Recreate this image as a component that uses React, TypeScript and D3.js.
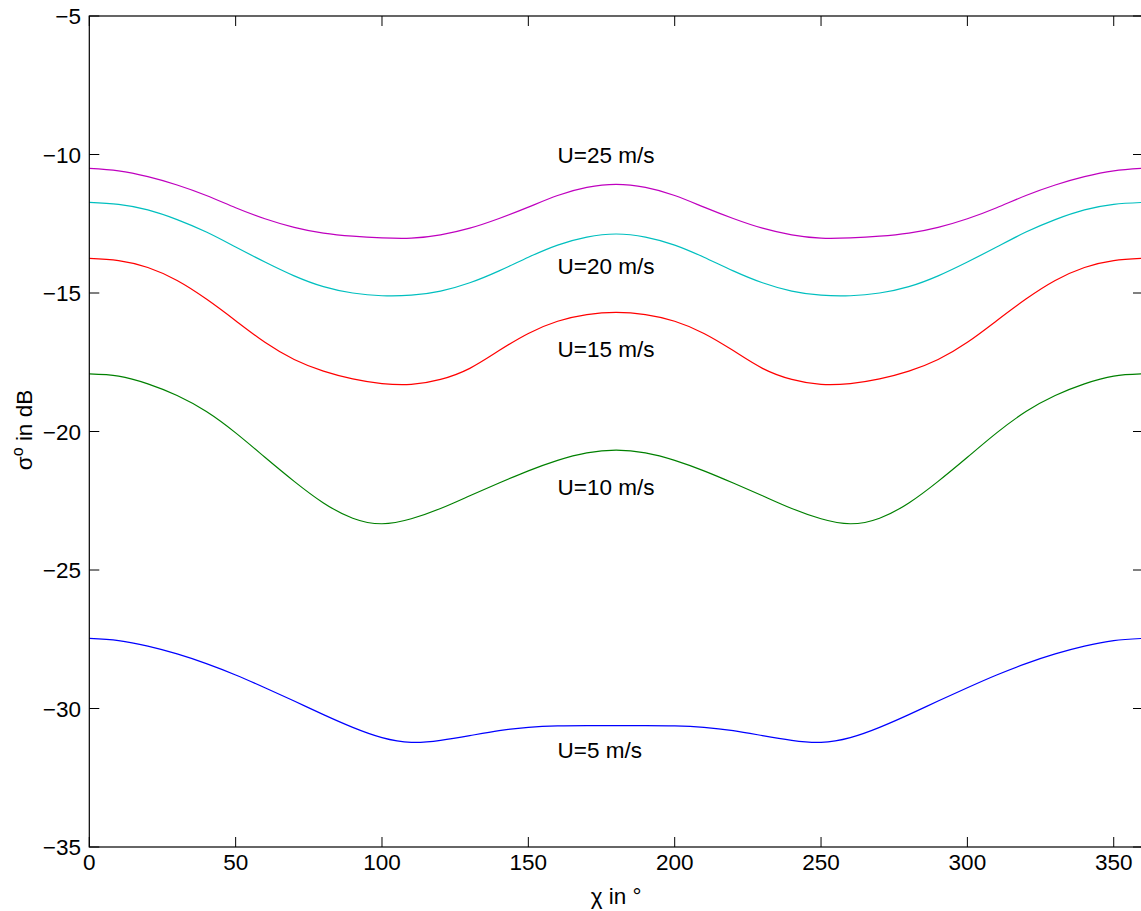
import React from "react";
import * as d3 from "d3";

const chi = d3.range(0, 361, 10);

// values, 0..180 deg, mirrored for 190..360
const halfU25 = [-10.5, -10.59, -10.8, -11.1, -11.48, -11.92, -12.32, -12.63, -12.84, -12.95, -13.01, -13.02, -12.9, -12.66, -12.31, -11.9, -11.48, -11.19, -11.08];
const halfU20 = [-11.73, -11.8, -12.0, -12.35, -12.8, -13.34, -13.88, -14.38, -14.77, -15.0, -15.1, -15.08, -14.93, -14.63, -14.2, -13.71, -13.27, -12.98, -12.87];
const halfU15 = [-13.75, -13.83, -14.08, -14.55, -15.22, -16.0, -16.78, -17.4, -17.82, -18.1, -18.27, -18.3, -18.12, -17.72, -17.08, -16.46, -16.02, -15.78, -15.7];
const halfU10 = [-17.92, -18.0, -18.28, -18.7, -19.28, -20.05, -20.93, -21.8, -22.58, -23.13, -23.33, -23.15, -22.78, -22.32, -21.86, -21.42, -21.04, -20.77, -20.67];
const halfU5 = [-27.47, -27.55, -27.75, -28.03, -28.38, -28.79, -29.25, -29.73, -30.22, -30.68, -31.05, -31.22, -31.15, -30.98, -30.8, -30.68, -30.63, -30.62, -30.62];

const full = (h: number[]) => [...h, ...h.slice(0, -1).reverse()];

const seriesNames = ["U=5 m/s", "U=10 m/s", "U=15 m/s", "U=20 m/s", "U=25 m/s"];
const seriesValues = [full(halfU5), full(halfU10), full(halfU15), full(halfU20), full(halfU25)];
const seriesColors = ["#0000ff", "#008000", "#ff0000", "#00bfbf", "#bf00bf"];
const labelPos: [number, number][] = [[160, -31.5], [160, -22], [160, -17], [160, -14], [160, -10]];

const xTicks = [0, 50, 100, 150, 200, 250, 300, 350];
const yTicks = [-35, -30, -25, -20, -15, -10, -5];

const W = 1141, H = 911;
const L = 89.3, R = 1143, T = 16, B = 847;
const FONT = "'Liberation Sans', Arial, Helvetica, sans-serif";
const FS = 22.5;

export default function App() {
  const x = d3.scaleLinear().domain([0, 360]).range([L, R]);
  const y = d3.scaleLinear().domain([-35, -5]).range([B, T]);
  const line = d3.line<number>().x((_, i) => x(chi[i])).y((v) => y(v)).curve(d3.curveNatural);
  const fmt = (v: number) => (v < 0 ? "\u2212" + Math.abs(v) : String(v));
  const tl = 10;
  return (
    <svg width={W} height={H} style={{ position: "absolute", left: 0, top: 0, background: "#fff" }} fontFamily={FONT}>
      <rect x={0} y={0} width={W} height={H} fill="#fff" />
      {seriesValues.map((vals, i) => (
        <path key={i} d={line(vals) || ""} fill="none" stroke={seriesColors[i]} strokeWidth={1.2} />
      ))}
      <rect x={L} y={T} width={R - L} height={B - T} fill="none" stroke="#000" strokeWidth={1.2} />
      {xTicks.map((t) => (
        <g key={"x" + t}>
          <line x1={x(t)} x2={x(t)} y1={B} y2={B - tl} stroke="#000" strokeWidth={1} />
          <line x1={x(t)} x2={x(t)} y1={T} y2={T + tl} stroke="#000" strokeWidth={1} />
          <text x={x(t)} y={870} textAnchor="middle" fontSize={FS} fill="#000">{t}</text>
        </g>
      ))}
      {yTicks.map((t) => (
        <g key={"y" + t}>
          <line x1={L} x2={L + tl} y1={y(t)} y2={y(t)} stroke="#000" strokeWidth={1} />
          <line x1={R} x2={R - tl} y1={y(t)} y2={y(t)} stroke="#000" strokeWidth={1} />
          <text x={81} y={y(t) + 8.3} textAnchor="end" fontSize={FS} fill="#000">{fmt(t)}</text>
        </g>
      ))}
      {seriesNames.map((n, i) => (
        <text key={n} x={x(labelPos[i][0])} y={y(labelPos[i][1]) + 8.3} fontSize={FS} fill="#000">{n}</text>
      ))}
      <text x={(L + R) / 2} y={904} textAnchor="middle" fontSize={FS} fill="#000">{"\u03c7 in \u00b0"}</text>
      <text transform={`translate(32,430) rotate(-90)`} textAnchor="middle" fontSize={FS} fill="#000">
        σ<tspan dy={-9} fontSize={16}>o</tspan><tspan dy={9}> in dB</tspan>
      </text>
    </svg>
  );
}
